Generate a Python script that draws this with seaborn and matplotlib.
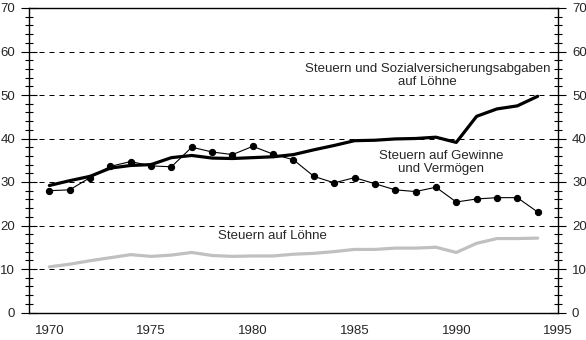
import matplotlib
matplotlib.use("Agg")
import matplotlib.pyplot as plt
import seaborn as sns
import pandas as pd
from matplotlib.ticker import MultipleLocator

years = list(range(1970, 1995))
sozial = [29.2, 30.3, 31.3, 33.2, 33.8, 34.0, 35.6, 36.1, 35.5, 35.4, 35.6, 35.8, 36.3,
          37.4, 38.4, 39.5, 39.6, 39.9, 40.0, 40.3, 39.1, 45.1, 46.8, 47.5, 49.7]
gewinne = [28.0, 28.2, 31.0, 33.6, 34.7, 33.7, 33.5, 38.0, 36.9, 36.3, 38.2, 36.4, 35.1,
           31.3, 29.8, 31.0, 29.6, 28.2, 27.8, 28.8, 25.4, 26.1, 26.4, 26.4, 23.1]
loehne = [10.5, 11.1, 11.9, 12.6, 13.3, 12.9, 13.2, 13.8, 13.1, 12.9, 13.0, 13.0, 13.4,
          13.6, 14.0, 14.5, 14.5, 14.8, 14.8, 15.0, 13.8, 15.9, 17.0, 17.0, 17.1]

label_sozial = "Steuern und Sozialversicherungsabgaben\nauf Löhne"
label_gewinne = "Steuern auf Gewinne\nund Vermögen"
label_loehne = "Steuern auf Löhne"
x_ticks = [1970, 1975, 1980, 1985, 1990, 1995]
y_ticks = [0, 10, 20, 30, 40, 50, 60, 70]

df = pd.DataFrame({"Jahr": years, "sozial": sozial, "gewinne": gewinne, "loehne": loehne})

sns.set_style("white")
plt.rcParams["font.family"] = ["Liberation Sans", "DejaVu Sans"]
plt.rcParams["font.size"] = 9

fig = plt.figure(figsize=(5.86, 3.40), dpi=100)
ax = fig.add_axes([29 / 586, (340 - 312.5) / 340, (558 - 29) / 586, (312.5 - 8) / 340])

for yv in y_ticks[1:-1]:
    ax.axhline(yv, color="black", lw=0.72, dashes=(5, 5), zorder=1)

sns.lineplot(data=df, x="Jahr", y="loehne", ax=ax, color="#c0c0c0", lw=2.3, zorder=2)
sns.lineplot(data=df, x="Jahr", y="gewinne", ax=ax, color="black", lw=0.8,
             marker="o", markersize=4.5, markeredgecolor="black", zorder=3)
sns.lineplot(data=df, x="Jahr", y="sozial", ax=ax, color="black", lw=2.3, zorder=4)

ax.set_xlim(1969, 1995)
ax.set_ylim(0, 70)
ax.set_xticks(x_ticks)
ax.set_yticks(y_ticks)
ax.xaxis.set_minor_locator(MultipleLocator(1))
ax.yaxis.set_minor_locator(MultipleLocator(2))
ax.set_xlabel("")
ax.set_ylabel("")
for s in ax.spines.values():
    s.set_color("black")
    s.set_linewidth(1)

ax.tick_params(axis="x", which="both", direction="inout", length=11.5, width=0.8,
               pad=3.5, labelsize=9.5, color="black")
ax.tick_params(axis="y", which="major", direction="inout", length=11.5, width=0.8,
               left=True, right=True, labelleft=True, labelright=True,
               pad=4.3, labelsize=9.5, color="black")
ax.tick_params(axis="y", which="minor", direction="inout", length=5.8, width=0.8,
               left=True, right=True, color="black")

ax.text(1988.6, 54.5, label_sozial, ha="center", va="center", fontsize=9.5, linespacing=1.1)
ax.text(1989.25, 34.4, label_gewinne, ha="center", va="center", fontsize=9.5, linespacing=1.1)
ax.text(1980.95, 17.6, label_loehne, ha="center", va="center", fontsize=9.5)

fig.savefig("out.png", dpi=100)
